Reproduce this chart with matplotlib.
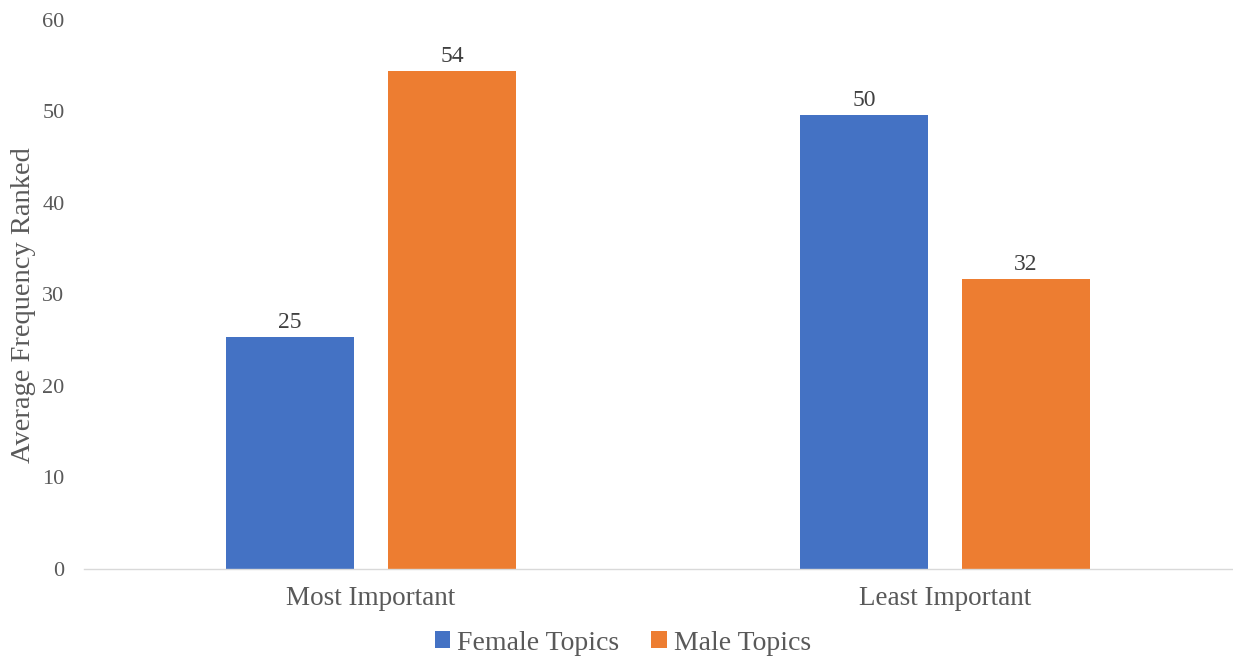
import numpy as np
import matplotlib
matplotlib.use("Agg")
import matplotlib.pyplot as plt

categories = ["Most Important", "Least Important"]
female = [25.3, 49.6]
male = [54.4, 31.7]
series_names = ["Female Topics", "Male Topics"]
yticks = [0, 10, 20, 30, 40, 50, 60]

blue = "#4472C4"
orange = "#ED7D31"
grey_text = "#595959"

plt.rcParams['font.family'] = ['Liberation Serif', 'DejaVu Serif']

fig = plt.figure(figsize=(12.33, 6.59), dpi=100)
ax = fig.add_axes([0.0681, 0.1366, 0.9311, 0.8331])

x = np.arange(len(categories))
w = 0.223
off = 0.141
b1 = ax.bar(x - off, female, w, color=blue, label=series_names[0])
b2 = ax.bar(x + off, male, w, color=orange, label=series_names[1])

# value labels on top of the bars
for bars in (b1, b2):
    for r in bars:
        h = r.get_height()
        ax.annotate(f"{h:.0f}", (r.get_x() + r.get_width() / 2, h),
                    xytext=(0, 3), textcoords="offset points",
                    ha="center", va="bottom", fontsize=17, color="#404040")

ax.set_xlim(-0.5, 1.5)
ax.set_ylim(0, 60)
ax.set_yticks(yticks)
ax.set_xticks(x)
ax.set_xticklabels(categories)
ax.tick_params(axis='both', length=0, colors=grey_text)
ax.tick_params(axis='y', pad=14, labelsize=16)
ax.tick_params(axis='x', pad=12, labelsize=19.5)
ax.set_ylabel("Average Frequency Ranked", fontsize=20.5, color=grey_text)
ax.yaxis.set_label_coords(-0.042, 0.481)

for s in ["top", "right", "left"]:
    ax.spines[s].set_visible(False)
ax.spines["bottom"].set_color("#D9D9D9")
ax.spines["bottom"].set_linewidth(1)

fig.legend(loc="center", bbox_to_anchor=(623 / 1233, 1 - 643 / 659), ncol=2,
           frameon=False, fontsize=20, handlelength=0.55, handleheight=0.55,
           handletextpad=0.25, columnspacing=1.15, labelcolor=grey_text)

fig.savefig("out.png", dpi=100)
